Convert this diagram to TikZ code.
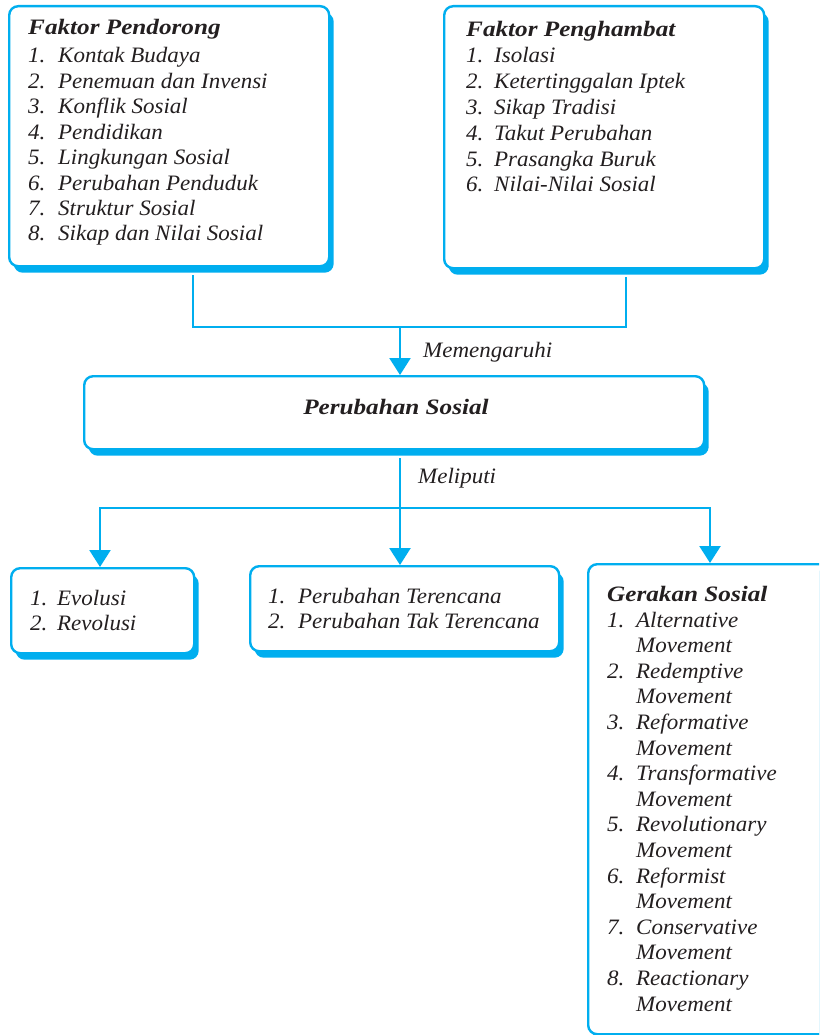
\documentclass[tikz,border=0pt]{standalone}
\usepackage{fontspec}
\setmainfont{Liberation Serif}
\newfontfamily\bodyfam[FakeStretch=1.045]{Liberation Serif}
\newfontfamily\titlefam[FakeStretch=1.145]{Liberation Serif}
\usetikzlibrary{arrows.meta,shadows,calc}
\definecolor{cy}{HTML}{00AEEF}
\definecolor{tx}{HTML}{231F20}
\newcommand\myit{\bodyfam\fontsize{22}{25.6}\selectfont\itshape}
\newcommand\mybf{\titlefam\fontsize{22}{25.6}\selectfont\bfseries\itshape}
\tikzset{
  sbox/.style={draw=cy, line width=2.4pt, fill=white, rounded corners=9pt,
    inner sep=0pt, anchor=north west,
    drop shadow={shadow xshift=4.5pt, shadow yshift=-6.5pt, fill=cy, opacity=1}},
  conn/.style={draw=cy, line width=2.4pt},
  arr/.style={conn, -{Triangle[width=21pt,length=17pt]}},
  lbl/.style={anchor=base west, inner sep=0pt, text=tx, font=\myit},
  ttl/.style={anchor=base west, inner sep=0pt, text=tx, font=\mybf},
}
\begin{document}
\begin{tikzpicture}[x=1pt,y=-1pt]
\clip (0,0) rectangle (819,1035);
% junction coordinates
\coordinate (jl) at (193,327);
\coordinate (jr) at (626,327);
\coordinate (jm) at (400,327);
\coordinate (m)  at (400,508);
\coordinate (ml) at (100,508);
\coordinate (mr) at (710,508);
% boxes
\path (8,5) node[sbox, minimum width=320pt, minimum height=260pt] (b1) {};
\path (443,5) node[sbox, minimum width=320pt, minimum height=262pt] (b2) {};
\path (83,375) node[sbox, minimum width=620pt, minimum height=73pt] (ps) {};
\path (10,567) node[sbox, minimum width=183pt, minimum height=85pt] (b3) {};
\path (249,565) node[sbox, minimum width=309pt, minimum height=85pt] (b4) {};
\path (587,563) node[sbox, minimum width=320pt, minimum height=470pt] (b5) {};
% connectors
\draw[conn] ($(b1.south -| jl)+(0,8)$) -- (jl) -- (jr) -- ($(b2.south -| jr)+(0,8)$);
\draw[arr] (jm) -- (jm |- ps.north);
\draw[conn] ($(ps.south -| m)+(0,8)$) -- (m);
\draw[arr] (m) -| (ml |- b3.north);
\draw[arr] (m) -- (m |- b4.north);
\draw[arr] (m) -| (mr |- b5.north);
% box 1
\node[ttl] (t1) at (28,35) {Faktor Pendorong};
\foreach \t [count=\i] in {Kontak Budaya, Penemuan dan Invensi, Konflik Sosial, Pendidikan, Lingkungan Sosial, Perubahan Penduduk, Struktur Sosial, Sikap dan Nilai Sosial}
  \node[lbl] (p\i) at (28,{63+25.4*(\i-1)}) {\makebox[30pt][l]{\i.}\t};
% box 2
\node[ttl] (t2) at (466,37) {Faktor Penghambat};
\foreach \t [count=\i] in {Isolasi, Ketertinggalan Iptek, Sikap Tradisi, Takut Perubahan, Prasangka Buruk, Nilai-Nilai Sosial}
  \node[lbl] (h\i) at (466,{63+25.8*(\i-1)}) {\makebox[28pt][l]{\i.}\t};
% labels
\node[lbl] (l1) at (423,357) {Memengaruhi};
\node[ttl, anchor=base] (tps) at (396,414) {Perubahan Sosial};
\node[lbl] (l2) at (418,483) {Meliputi};
% box 3
\node[lbl] (e1) at (30,605) {\makebox[27pt][l]{1.}Evolusi};
\node[lbl] (e2) at (30,630) {\makebox[27pt][l]{2.}Revolusi};
% box 4
\node[lbl] (r1) at (268,603) {\makebox[30pt][l]{1.}Perubahan Terencana};
\node[lbl] (r2) at (268,628) {\makebox[30pt][l]{2.}Perubahan Tak Terencana};
% box 5
\node[ttl] (t5) at (607,601) {Gerakan Sosial};
\foreach \t [count=\i] in {Alternative, Redemptive, Reformative, Transformative, Revolutionary, Reformist, Conservative, Reactionary}{
  \node[lbl] (g\i) at (607,{627+51.2*(\i-1)}) {\makebox[29pt][l]{\i.}\t};
  \node[lbl] (gm\i) at (636,{652.6+51.2*(\i-1)}) {Movement};
}
\end{tikzpicture}
\end{document}
